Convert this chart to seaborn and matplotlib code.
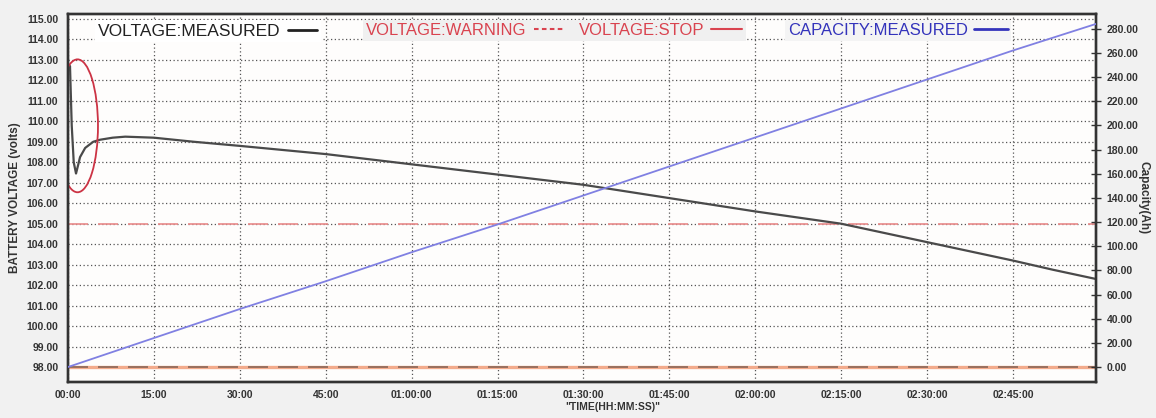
import numpy as np
import pandas as pd
import matplotlib
matplotlib.use("Agg")
import matplotlib.pyplot as plt
from matplotlib.lines import Line2D
from matplotlib.patches import Ellipse
import seaborn as sns

# time in minutes since start
volt_time = [0, 0.35, 0.65, 1.0, 1.4, 1.8, 2.1, 3.0, 4.4, 5.6, 7.8, 10, 15, 22, 30, 45,
             60, 75, 90, 105, 120, 135, 150, 165, 172, 179.5]
volt_measured = [112.5, 112.7, 109.8, 108.0, 107.45, 107.9, 108.25, 108.7, 109.0, 109.1,
                 109.2, 109.25, 109.2, 109.0, 108.8, 108.4, 107.9, 107.4, 106.9, 106.25,
                 105.6, 105.0, 104.1, 103.2, 102.75, 102.3]

cap_time = [0, 15, 30, 45, 60, 75, 90, 105, 120, 135, 150, 165, 179.5]
cap_measured = [0, 24, 48, 71, 95, 118, 142, 166, 190, 214, 238, 262, 284]

volt_warning = 105.0
volt_stop = 98.0

xtick_pos = [0, 15, 30, 45, 60, 75, 90, 105, 120, 135, 150, 165]
xtick_labels = ["00:00", "15:00", "30:00", "45:00", "01:00:00", "01:15:00", "01:30:00",
                "01:45:00", "02:00:00", "02:15:00", "02:30:00", "02:45:00"]
volt_ticks = list(range(98, 116))
cap_ticks = list(range(0, 281, 20))

sns.set_theme(style="white")
plt.rcParams['font.family'] = ['Liberation Sans', 'DejaVu Sans']

fig = plt.figure(figsize=(11.56, 4.18), dpi=100, facecolor='#f1f1f1')
ax = fig.add_axes([68 / 1156, 1 - 382 / 418, 1028 / 1156, 368 / 418])
ax.set_facecolor('#fefdfc')
ax2 = ax.twinx()

volt_df = pd.DataFrame({"time": volt_time, "volts": volt_measured})
cap_df = pd.DataFrame({"time": cap_time, "ah": cap_measured})

# stop / warning levels
ax.axhline(volt_stop, color='#f3ab8c', lw=2.4, zorder=2)
ax.axhline(volt_stop, color='#8a6656', lw=1.2, dashes=(12, 6), zorder=3)
ax.axhline(volt_warning, color='#e98a8a', lw=1.2, dashes=(12, 6), zorder=2)

sns.lineplot(data=volt_df, x="time", y="volts", ax=ax, color='#4a4a4a', lw=1.6, zorder=4)
sns.lineplot(data=cap_df, x="time", y="ah", ax=ax2, color='#8080e2', lw=1.3, zorder=4)

# red circle around the start-up dip
ax.add_patch(Ellipse((1.66, 109.78), 7.15, 6.49, fill=False, edgecolor='#cc3344', lw=1.3, zorder=5))

ax.set_xlim(0, 179.5)
ax.set_ylim(97.27, 115.24)
ax2.set_ylim(-12.4, 292.2)

ax.set_xticks(xtick_pos)
ax.set_xticklabels(xtick_labels)
ax.set_yticks(volt_ticks)
ax.set_yticklabels(["%.2f" % v for v in volt_ticks])
ax2.set_yticks(cap_ticks)
ax2.set_yticklabels(["%.2f" % v for v in cap_ticks])

ax.tick_params(axis='both', length=0, labelsize=7.5, colors='#333333')
ax.tick_params(axis='y', pad=7)
ax.tick_params(axis='x', pad=6)
ax2.tick_params(axis='y', direction='inout', length=7, width=1, color='#333333',
                labelsize=7.5, labelcolor='#333333', pad=4)
for lab in ax.get_xticklabels() + ax.get_yticklabels() + ax2.get_yticklabels():
    lab.set_fontweight('bold')

ax.grid(True, color='#555555', linestyle=(0, (1, 2)), lw=0.9)
ax2.grid(False)
for a in (ax, ax2):
    for s in a.spines.values():
        s.set_color('#333333')
        s.set_linewidth(1.7)
        s.set_visible(True)

ax.set_xlabel('"TIME(HH:MM:SS)"', fontsize=7.5, fontweight='bold', color='#333333')
ax.xaxis.set_label_coords(0.53, -0.055)
ax.set_ylabel('BATTERY VOLTAGE (volts)', fontsize=8.5, fontweight='bold', color='#333333')
ax.yaxis.set_label_coords(-0.046, 0.5)
ax2.set_ylabel('Capacity(Ah)', fontsize=8.5, fontweight='bold', color='#333333', rotation=270,
               va='center')
ax2.yaxis.set_label_coords(1.046, 0.5)

# legends as three boxes along the top
leg_kw = dict(loc='upper left', markerfirst=False, frameon=True, fancybox=False, framealpha=1,
              edgecolor='none', borderaxespad=0, borderpad=0.2, handletextpad=0.4)
h_meas = Line2D([], [], color='#222222', lw=2)
leg1 = ax2.legend([h_meas], ['VOLTAGE:MEASURED'], bbox_to_anchor=(0.026, 0.983),
                  facecolor='white', fontsize=12.5, handlelength=1.7, labelcolor='#222222', **leg_kw)
ax2.add_artist(leg1)

h_warn = Line2D([], [], color='#d9434f', lw=1.5, dashes=(2.2, 1.6))
h_stop = Line2D([], [], color='#d9434f', lw=1.5)
leg2 = ax2.legend([h_warn, h_stop], ['VOLTAGE:WARNING', 'VOLTAGE:STOP'], ncol=2,
                  bbox_to_anchor=(0.287, 0.985), facecolor='#f0f0f0', fontsize=12,
                  handlelength=1.9, columnspacing=0.8, labelcolor='#d9434f', **leg_kw)
ax2.add_artist(leg2)

h_cap = Line2D([], [], color='#3333bb', lw=2)
ax2.legend([h_cap], ['CAPACITY:MEASURED'], bbox_to_anchor=(0.697, 0.985),
           facecolor='#f4f4f4', fontsize=12, handlelength=2.0, labelcolor='#3333bb', **leg_kw)

fig.savefig('out.png', dpi=100, facecolor=fig.get_facecolor())
